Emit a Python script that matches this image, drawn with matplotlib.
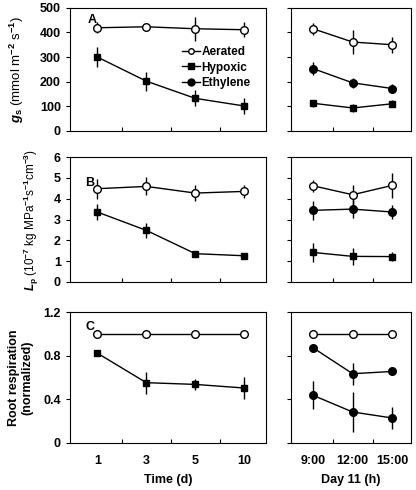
import numpy as np
import matplotlib.pyplot as plt

plt.rcParams['font.family'] = ['Liberation Sans', 'DejaVu Sans']
plt.rcParams['font.weight'] = 'bold'
plt.rcParams['mathtext.fontset'] = 'custom'
plt.rcParams['mathtext.rm'] = 'Liberation Sans:bold'
plt.rcParams['mathtext.it'] = 'Liberation Sans:italic:bold'
plt.rcParams['mathtext.default'] = 'rm'

# categories
days = ['1', '3', '5', '10']
hours = ['9:00', '12:00', '15:00']

# panel A: stomatal conductance
gs_aer = [419, 423, 415, 411]
gs_aer_err = [22, 15, 49, 30]
gs_hyp = [300, 202, 132, 101]
gs_hyp_err = [40, 39, 33, 32]
gs_aer_h = [415, 361, 350]
gs_aer_h_err = [25, 47, 33]
gs_eth_h = [253, 195, 172]
gs_eth_h_err = [25, 20, 18]
gs_hyp_h = [112, 93, 110]
gs_hyp_h_err = [15, 15, 15]

# panel B: root hydraulic conductivity
lp_aer = [4.48, 4.59, 4.27, 4.35]
lp_aer_err = [0.48, 0.43, 0.37, 0.32]
lp_hyp = [3.36, 2.48, 1.36, 1.26]
lp_hyp_err = [0.40, 0.37, 0.15, 0.13]
lp_aer_h = [4.62, 4.19, 4.64]
lp_aer_h_err = [0.30, 0.47, 0.60]
lp_eth_h = [3.44, 3.50, 3.36]
lp_eth_h_err = [0.45, 0.45, 0.35]
lp_hyp_h = [1.42, 1.23, 1.22]
lp_hyp_h_err = [0.45, 0.40, 0.20]

# panel C: root respiration (normalized)
rr_aer = [1.0, 1.0, 1.0, 1.0]
rr_hyp = [0.824, 0.553, 0.537, 0.504]
rr_hyp_err = [0.03, 0.10, 0.05, 0.10]
rr_aer_h = [1.0, 1.0, 1.0]
rr_eth_h = [0.873, 0.635, 0.656]
rr_eth_h_err = [0.01, 0.10, 0.03]
rr_low_h = [0.437, 0.284, 0.229]
rr_low_h_err = [0.13, 0.18, 0.10]

fig = plt.figure(figsize=(4.16, 4.90), dpi=100)

rows = [(0.733, 0.251), (0.4245, 0.255), (0.096, 0.267)]
axes = []
for b, h in rows:
    axl = fig.add_axes([0.168, b, 0.471, h])
    axr = fig.add_axes([0.700, b, 0.287, h])
    axes.append((axl, axr))

xl = np.arange(1, len(days) + 1)
xr = np.arange(1, len(hours) + 1)

def series(ax, x, y, err, marker, face):
    ms = 5 if marker == 's' else 5.5
    ax.errorbar(x, y, yerr=err, color='black', lw=1, elinewidth=1, capsize=0,
                marker=marker, ms=ms, mfc=face, mec='black', mew=1)

# A
a1, a2 = axes[0]
series(a1, xl, gs_aer, gs_aer_err, 'o', 'white')
series(a1, xl, gs_hyp, gs_hyp_err, 's', 'black')
series(a2, xr, gs_aer_h, gs_aer_h_err, 'o', 'white')
series(a2, xr, gs_eth_h, gs_eth_h_err, 'o', 'black')
series(a2, xr, gs_hyp_h, gs_hyp_h_err, 's', 'black')
for ax in (a1, a2):
    ax.set_ylim(0, 500)
    ax.set_yticks([0, 100, 200, 300, 400, 500])
a1.set_ylabel(r'$\mathit{g}_{s}$ (mmol m$^{-2}$ s$^{-1}$)', fontsize=9.5, labelpad=10)
a1.text(0.09, 0.95, 'A', transform=a1.transAxes, fontsize=9, fontweight='bold', va='top')
h_aer, = a1.plot([], [], color='black', lw=1, marker='o', ms=4, mfc='white')
h_hyp, = a1.plot([], [], color='black', lw=1, marker='s', ms=4, mfc='black')
h_eth, = a1.plot([], [], color='black', lw=1, marker='o', ms=5, mfc='black')
a1.legend([h_aer, h_hyp, h_eth], ['Aerated', 'Hypoxic', 'Ethylene'],
          loc='upper left', bbox_to_anchor=(0.57, 0.69), frameon=False,
          fontsize=8.5, handlelength=1.6, handletextpad=0.1, labelspacing=0.3,
          borderpad=0, borderaxespad=0)

# B
b1, b2 = axes[1]
series(b1, xl, lp_aer, lp_aer_err, 'o', 'white')
series(b1, xl, lp_hyp, lp_hyp_err, 's', 'black')
series(b2, xr, lp_aer_h, lp_aer_h_err, 'o', 'white')
series(b2, xr, lp_eth_h, lp_eth_h_err, 'o', 'black')
series(b2, xr, lp_hyp_h, lp_hyp_h_err, 's', 'black')
for ax in (b1, b2):
    ax.set_ylim(0, 6)
    ax.set_yticks(range(7))
b1.set_ylabel(r'$\mathit{L}_{p}$ (10$^{-7}$ kg MPa$^{-1}$s$^{-1}$cm$^{-3}$)', fontsize=8.5, labelpad=9)
b1.text(0.08, 0.84, 'B', transform=b1.transAxes, fontsize=9, fontweight='bold', va='top')

# C
c1, c2 = axes[2]
series(c1, xl, rr_aer, None, 'o', 'white')
series(c1, xl, rr_hyp, rr_hyp_err, 's', 'black')
series(c2, xr, rr_aer_h, None, 'o', 'white')
series(c2, xr, rr_eth_h, rr_eth_h_err, 'o', 'black')
series(c2, xr, rr_low_h, rr_low_h_err, 'o', 'black')
for ax in (c1, c2):
    ax.set_ylim(0, 1.2)
    ax.set_yticks([0, 0.4, 0.8, 1.2])
c1.set_yticklabels(['0', '0.4', '0.8', '1.2'])
c1.set_ylabel('Root respiration\n(normalized)', fontsize=9, fontweight='bold', labelpad=7)
c1.text(0.08, 0.93, 'C', transform=c1.transAxes, fontsize=9, fontweight='bold', va='top')
c1.set_xlabel('Time (d)', fontsize=9, fontweight='bold', labelpad=5)
c2.set_xlabel('Day 11 (h)', fontsize=9, fontweight='bold', labelpad=5)

for axl, axr in axes:
    axl.set_xlim(0.44, 4.44)
    axr.set_xlim(0.45, 3.46)
    axl.set_xticks(xl[:-1] + 0.5)
    axr.set_xticks(xr[:-1] + 0.5)
    axl.set_xticks(xl, minor=True)
    axr.set_xticks(xr, minor=True)
    for ax in (axl, axr):
        ax.tick_params(axis='x', which='major', direction='in', length=3, labelbottom=False)
        ax.tick_params(axis='x', which='minor', length=0)
        ax.tick_params(axis='y', direction='out', length=3, labelsize=9)
        for s in ax.spines.values():
            s.set_linewidth(0.8)
    axr.tick_params(axis='y', labelleft=False)

for ax, labs in ((c1, days), (c2, hours)):
    ax.set_xticklabels(labs, minor=True)
    ax.tick_params(axis='x', which='minor', labelbottom=True, labelsize=9, pad=9)

fig.savefig('out.png', dpi=100)
